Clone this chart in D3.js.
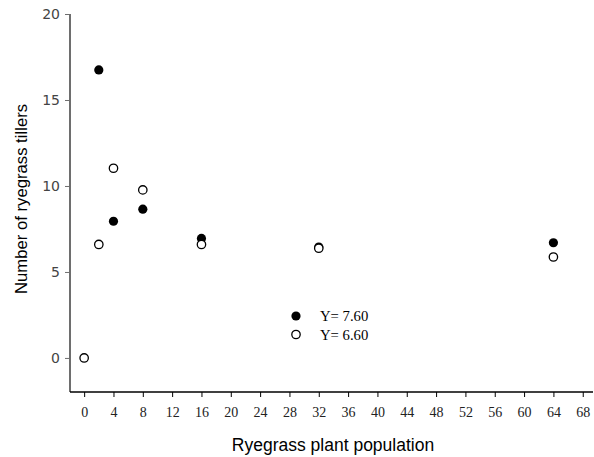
<!DOCTYPE html>
<html>
<head>
<meta charset="utf-8">
<script src="https://cdn.jsdelivr.net/npm/d3@7"></script>
<style>
  body { margin: 0; background: #fff; }
  svg { display: block; }
</style>
</head>
<body>
<div id="chart"></div>
<script>
// Données
const xTicks = [0, 4, 8, 12, 16, 20, 24, 28, 32, 36, 40, 44, 48, 52, 56, 60, 64, 68];
const yTicks = [0, 5, 10, 15, 20];

const filledX = [2, 4, 8, 16, 32, 64];
const filledY = [16.75, 7.95, 8.65, 6.95, 6.45, 6.7];

const openX = [0, 2, 4, 8, 16, 32, 64];
const openY = [0, 6.6, 11.03, 9.77, 6.6, 6.38, 5.87];

const legendLabels = ['Y= 7.60', 'Y= 6.60'];

const width = 594, height = 457;

const svg = d3.select('#chart').append('svg')
    .attr('width', width)
    .attr('height', height);

const x = d3.scaleLinear().domain([-1.93, 69.4]).range([70, 593]);
const y = d3.scaleLinear().domain([-1.98, 20]).range([392, 14]);

// ── Axe Y ──
const yAxis = svg.append('g')
    .attr('transform', 'translate(70,0)')
    .call(d3.axisLeft(y).tickValues(yTicks).tickSize(5).tickPadding(5));
yAxis.select('.domain')
    .attr('d', `M0,${y(20)}V392`)
    .attr('stroke', '#6e6e6e')
    .attr('stroke-width', 2);
yAxis.selectAll('.tick line').attr('stroke', '#6e6e6e');
yAxis.selectAll('.tick text')
    .attr('fill', '#444')
    .style('font', '14px "DejaVu Sans", sans-serif');

// ── Axe X ──
const xAxis = svg.append('g')
    .attr('transform', 'translate(0,392)')
    .call(d3.axisBottom(x).tickValues(xTicks).tickSize(5).tickPadding(10));
xAxis.select('.domain')
    .attr('d', 'M70,0H593')
    .attr('stroke', '#000')
    .attr('stroke-width', 1.5);
xAxis.selectAll('.tick line').attr('stroke', '#000');
xAxis.selectAll('.tick text')
    .attr('fill', '#222')
    .style('font', '14px "Liberation Serif", serif');

// ── Titres ──
svg.append('text')
    .attr('transform', `translate(27,199) rotate(-90)`)
    .attr('text-anchor', 'middle')
    .style('font', '16.7px "Liberation Sans", Arial, sans-serif')
    .text('Number of ryegrass tillers');

svg.append('text')
    .attr('x', 333)
    .attr('y', 451)
    .attr('text-anchor', 'middle')
    .style('font', '17.5px "Liberation Sans", Arial, sans-serif')
    .text('Ryegrass plant population');

// ── Points ──
const filled = filledX.map((v, i) => ({ x: v, y: filledY[i] }));
const open = openX.map((v, i) => ({ x: v, y: openY[i] }));

svg.append('g').selectAll('circle')
    .data(filled)
    .join('circle')
    .attr('cx', d => x(d.x))
    .attr('cy', d => y(d.y))
    .attr('r', 4.6)
    .attr('fill', '#000');

svg.append('g').selectAll('circle')
    .data(open)
    .join('circle')
    .attr('cx', d => x(d.x))
    .attr('cy', d => y(d.y))
    .attr('r', 4.2)
    .attr('fill', '#fff')
    .attr('stroke', '#000')
    .attr('stroke-width', 1.3);

// ── Légende ──
const legend = svg.append('g');
legendLabels.forEach((label, i) => {
    const cy = 316 + i * 18.5;
    legend.append('circle')
        .attr('cx', 296)
        .attr('cy', cy)
        .attr('r', i === 0 ? 4.6 : 4.2)
        .attr('fill', i === 0 ? '#000' : '#fff')
        .attr('stroke', i === 0 ? 'none' : '#000')
        .attr('stroke-width', 1.3);
    legend.append('text')
        .attr('x', 320)
        .attr('y', cy)
        .attr('dy', '0.35em')
        .style('font', '14.7px "Liberation Serif", serif')
        .text(label);
});
</script>
</body>
</html>
